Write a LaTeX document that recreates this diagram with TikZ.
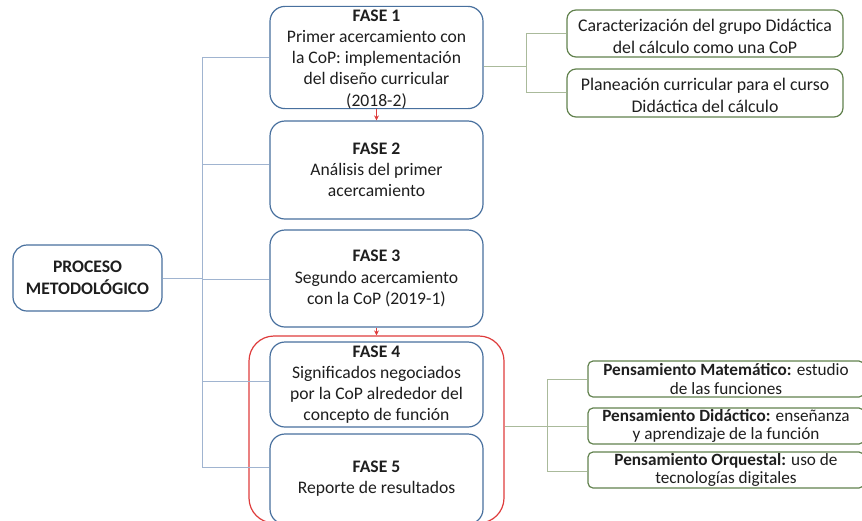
\documentclass[tikz,border=0pt]{standalone}
\usepackage{fontspec}
\setmainfont{Carlito}
\usetikzlibrary{arrows.meta}
\definecolor{faseblue}{RGB}{72,112,158}
\definecolor{linkblue}{RGB}{160,180,208}
\definecolor{gborder}{RGB}{98,130,78}
\definecolor{glink}{RGB}{170,186,155}
\definecolor{redbox}{RGB}{222,60,60}
\definecolor{txt}{RGB}{30,30,30}
\tikzset{
  fase/.style={draw=faseblue, line width=1.2pt, rounded corners=15pt, fill=white, align=center,
    inner sep=0pt, minimum width=213pt, font=\fontsize{17.6}{21.2}\selectfont, text=txt},
  procbox/.style={draw=faseblue, line width=1.2pt, rounded corners=14pt, fill=white, align=center,
    inner sep=0pt, minimum width=149pt, minimum height=66pt, font=\fontsize{17.6}{21.5}\selectfont\bfseries, text=txt},
  gbox/.style={draw=gborder, line width=1.2pt, rounded corners=9pt, fill=white, align=center,
    inner sep=0pt, minimum width=276pt, font=\fontsize{17.8}{22}\selectfont, text=txt},
  pbox/.style={draw=gborder, line width=1.2pt, rounded corners=5pt, fill=white, align=center,
    inner sep=0pt, minimum width=276pt, minimum height=36pt, font=\fontsize{17.2}{18.5}\selectfont, text=txt},
  blink/.style={draw=linkblue, line width=1pt},
  glinkst/.style={draw=glink, line width=1pt},
  redarrow/.style={draw=redbox, line width=0.8pt, -{Stealth[length=5pt,width=5pt]}},
}
\begin{document}
\begin{tikzpicture}[x=1pt,y=-1pt]
\clip (0,0) rectangle (862,520);
% coordinates
\coordinate (t1) at (202,57);
\coordinate (t2) at (202,164);
\coordinate (t3) at (202,279);
\coordinate (t4) at (202,381);
\coordinate (t5) at (202,467);
\coordinate (c1) at (526,66);
\coordinate (c1a) at (526,33);
\coordinate (c1b) at (526,92);
\coordinate (c2) at (547,426);
\coordinate (c2a) at (547,379);
\coordinate (c2b) at (547,471);
% nodes
\node[procbox] (proc) at (87.5,278) {PROCESO\\METODOLÓGICO};
\node[fase, minimum height=99pt] (f1) at (376.5,57.5) {\rule{0pt}{15pt}\textbf{FASE 1}\\Primer acercamiento con\\la CoP: implementación\\del diseño curricular\\(2018-2)};
\node[fase, minimum height=98pt] (f2) at (376.5,170) {\textbf{FASE 2}\\Análisis del primer\\acercamiento};
\node[fase, minimum height=97pt] (f3) at (376.5,278.5) {\textbf{FASE 3}\\Segundo acercamiento\\con la CoP (2019-1)};
\node[fase, minimum height=85pt] (f4) at (376.5,384.5) {\textbf{FASE 4}\\Significados negociados\\por la CoP alrededor del\\concepto de función};
\node[fase, minimum height=90pt] (f5) at (376.5,479) {\textbf{FASE 5}\\Reporte de resultados};
\node[draw=redbox, line width=1.2pt, rounded corners=25pt, minimum width=255pt, minimum height=187pt, inner sep=0pt] (grp) at (376.5,429.5) {};
\node[gbox, minimum height=47pt] (r1) at (705,33.5) {\rule{0pt}{18pt}Caracterización del grupo Didáctica\\del cálculo como una CoP};
\node[gbox, minimum height=48pt] (r2) at (705,93) {\rule{0pt}{18pt}Planeación curricular para el curso\\Didáctica del cálculo};
\node[pbox] (p1) at (726,379) {\textbf{Pensamiento Matemático:} estudio\\de las funciones};
\node[pbox] (p2) at (726,426) {\textbf{Pensamiento Didáctico:} enseñanza\\y aprendizaje de la función};
\node[pbox] (p3) at (726,470) {\textbf{Pensamiento Orquestal:} uso de\\tecnologías digitales};
% connectors
\draw[blink] (t1) -- (t5);
\draw[blink] (proc.east) -- (proc.east -| t3);
\draw[blink] (t1) -- (t1 -| f1.west);
\draw[blink] (t2) -- (t2 -| f2.west);
\draw[blink] (t3) -- (t3 -| f3.west);
\draw[blink] (t4) -- (t4 -| f4.west);
\draw[blink] (t5) -- (t5 -| f5.west);
\draw[glinkst] (c1 -| f1.east) -- (c1);
\draw[glinkst] (c1a) -- (c1b);
\draw[glinkst] (c1a) -- (c1a -| r1.west);
\draw[glinkst] (c1b) -- (c1b -| r2.west);
\draw[glinkst] (c2 -| grp.east) -- (c2);
\draw[glinkst] (c2a) -- (c2b);
\draw[glinkst] (c2a) -- (c2a -| p1.west);
\draw[glinkst] (c2) -- (c2 -| p2.west);
\draw[glinkst] (c2b) -- (c2b -| p3.west);
% arrows
\draw[redarrow] (f1.south) -- (f2.north);
\draw[redarrow] (f3.south) -- (grp.north);
\end{tikzpicture}
\end{document}
